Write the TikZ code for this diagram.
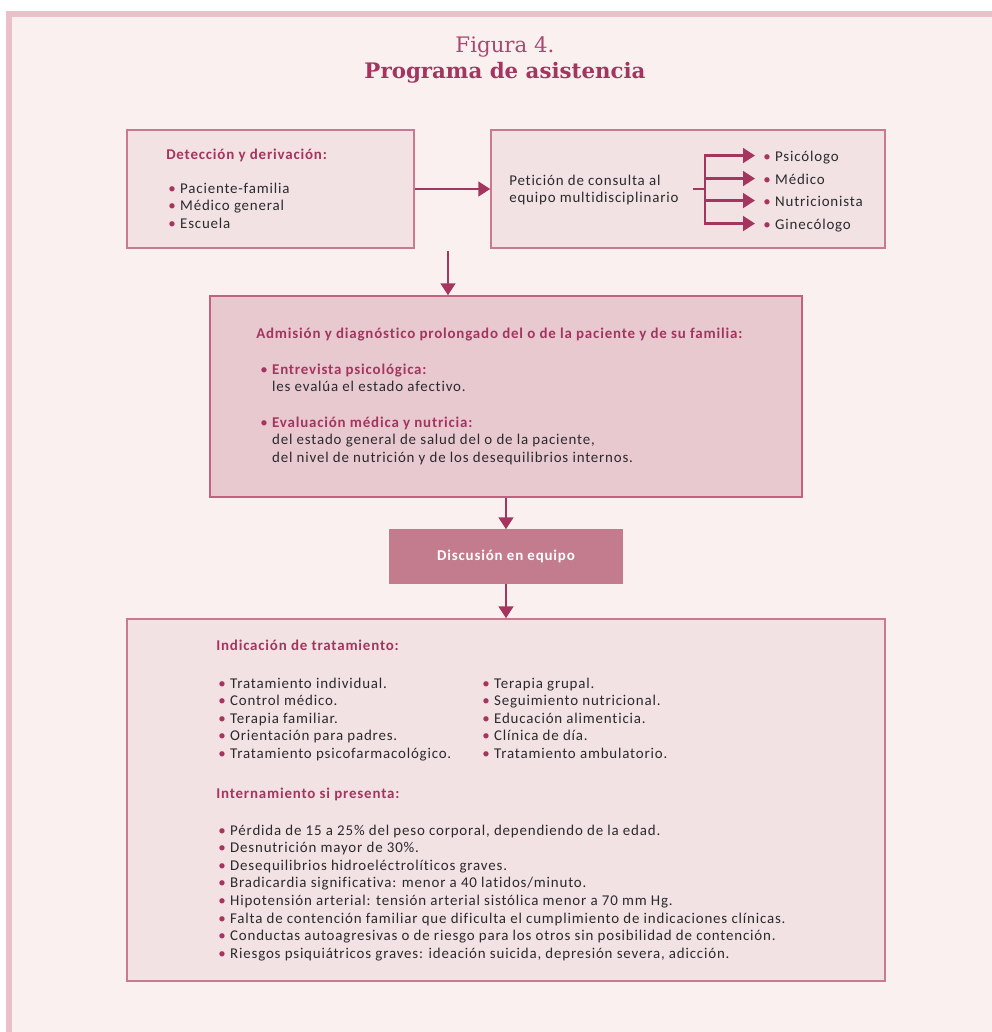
\documentclass[tikz,border=0pt]{standalone}
\usepackage{fontspec}
\setmainfont{Carlito}[LetterSpace=5.5, Ligatures=NoCommon]
\newfontfamily\titlefont{DejaVu Serif}
\usepackage{xcolor}
\usepackage{tikz}
\usetikzlibrary{arrows.meta}
\definecolor{accent}{HTML}{A3355F}
\definecolor{titlepink}{HTML}{A84971}
\definecolor{framepink}{HTML}{EBC0CA}
\definecolor{bgpink}{HTML}{FBF0F0}
\definecolor{boxlight}{HTML}{F3E2E4}
\definecolor{boxdark}{HTML}{E8C9D0}
\definecolor{boxline}{HTML}{C97A93}
\definecolor{boxlinedark}{HTML}{C4617F}
\definecolor{discfill}{HTML}{C27C8D}
\definecolor{bodytext}{HTML}{2A2A2A}
\newcommand{\bul}{{\color{accent}\textbullet}\hspace{0.3em}}
\newcommand{\hd}[1]{\textcolor{accent}{\bfseries #1}}
\newcommand{\lst}[1]{\begin{tabular}[t]{@{}l@{}}#1\end{tabular}}

\begin{document}
\begin{tikzpicture}[x=0.75pt, y=-0.75pt,
	every node/.style={font=\fontsize{11.2}{13.2}\selectfont, text=bodytext},
	box/.style={draw=boxline, line width=1.1pt, fill=boxlight, inner sep=0pt},
	txt/.style={anchor=base west, inner sep=0pt},
	arr/.style={draw=accent, line width=2pt, -{Triangle[length=9pt, width=11pt]}},
	branch/.style={arr, shorten >=6pt},
	lbl/.style={txt, text height=10pt, text depth=1.8pt}]
			\useasboundingbox (0,0) rectangle (992,1032);
			%   %   %   %   %   %   %   %   %   %   %
			%   Frame
				\fill[white] (0,0) rectangle (992,1032);
				\fill[bgpink] (8,13) rectangle (992,1032);
				\draw[framepink, line width=4.5pt] (9,1032) -- (9,14) -- (992,14);
			%   %   %   %   %   %   %   %   %   %   %
			%   Title
				\draw (505,52) node[anchor=base, text=titlepink, font=\titlefont\fontsize{16}{18}\selectfont] (fig) {Figura 4.};
				\draw (505,78) node[anchor=base, text=accent, font=\titlefont\bfseries\fontsize{16}{18}\selectfont] (title) {Programa de asistencia};
			%   %   %   %   %   %   %   %   %   %   %
			%   Detection
				\draw (270.5,189) node[box, minimum width=215.25pt, minimum height=88.5pt] (detec) {};
				\draw (166,159) node[txt] (detech) {\hd{Detección y derivación:}};
				\draw (168,193) node[txt] (detecl) {\lst{\bul Paciente-familia\\ \bul Médico general\\ \bul Escuela}};
			%   %   %   %   %   %   %   %   %   %   %
			%   Request
				\draw (688,189) node[box, minimum width=295.5pt, minimum height=88.5pt] (peticion) {};
				\draw (509,185) node[txt] (petict) {\lst{Petición de consulta al\\ equipo multidisciplinario}};
				\draw (763,161) node[lbl] (psic) {\bul Psicólogo};
				\draw (763,184) node[lbl] (medico) {\bul Médico};
				\draw (763,206) node[lbl] (nutri) {\bul Nutricionista};
				\draw (763,229) node[lbl] (gineco) {\bul Ginecólogo};
			%   %   %   %   %   %   %   %   %   %   %
			%   Detection -> Request -> team
				\draw[arr] (detec) -- (peticion);
				\coordinate (stub) at (693,189);
				\coordinate (fork) at (705,189);
				\draw[accent, line width=2pt] (stub) -- (fork);
				\draw[branch] (fork) |- (psic.west);
				\draw[branch] (fork) |- (medico.west);
				\draw[branch] (fork) |- (nutri.west);
				\draw[branch] (fork) |- (gineco.west);
			%   %   %   %   %   %   %   %   %   %   %
			%   Admission
				\draw (506,396.5) node[box, fill=boxdark, draw=boxlinedark, minimum width=444pt, minimum height=150.75pt] (admision) {};
				\draw (256,338) node[txt] (admh) {\hd{Admisión y diagnóstico prolongado del o de la paciente y de su familia:}};
				\draw (260,374) node[txt] (entrev) {\lst{\bul\hd{Entrevista psicológica:}\\ \phantom{\bul}les evalúa el estado afectivo.}};
				\draw (260,427) node[txt] (evalm) {\lst{\bul\hd{Evaluación médica y nutricia:}\\ \phantom{\bul}del estado general de salud del o de la paciente,\\ \phantom{\bul}del nivel de nutrición y de los desequilibrios internos.}};
				\coordinate (split) at (448,251);
				\draw[arr] (split) -- (split |- admision.north);
			%   %   %   %   %   %   %   %   %   %   %
			%   Discussion
				\draw (506,556.5) node[box, fill=discfill, draw=discfill, minimum width=174pt, minimum height=39.75pt, text=white, font=\bfseries\fontsize{11.2}{13.2}\selectfont] (discusion) {Discusión en equipo};
				\draw[arr] (admision) -- (discusion);
			%   %   %   %   %   %   %   %   %   %   %
			%   Treatment
				\draw (506,800) node[box, minimum width=568.5pt, minimum height=271.5pt] (indicacion) {};
				\draw[arr] (discusion) -- (indicacion);
				\draw (216,650) node[txt] (indh) {\hd{Indicación de tratamiento:}};
				\draw (218,688) node[txt] (indl) {\lst{\bul Tratamiento individual.\\ \bul Control médico.\\ \bul Terapia familiar.\\ \bul Orientación para padres.\\ \bul Tratamiento psicofarmacológico.}};
				\draw (482,688) node[txt] (indr) {\lst{\bul Terapia grupal.\\ \bul Seguimiento nutricional.\\ \bul Educación alimenticia.\\ \bul Clínica de día.\\ \bul Tratamiento ambulatorio.}};
				\draw (216,798) node[txt] (inth) {\hd{Internamiento si presenta:}};
				\draw (218,835) node[txt] (intl) {\lst{\bul Pérdida de 15 a 25\% del peso corporal, dependiendo de la edad.\\ \bul Desnutrición mayor de 30\%.\\ \bul Desequilibrios hidroeléctrolíticos graves.\\ \bul Bradicardia significativa: menor a 40 latidos/minuto.\\ \bul Hipotensión arterial: tensión arterial sistólica menor a 70 mm Hg.\\ \bul Falta de contención familiar que dificulta el cumplimiento de indicaciones clínicas.\\ \bul Conductas autoagresivas o de riesgo para los otros sin posibilidad de contención.\\ \bul Riesgos psiquiátricos graves: ideación suicida, depresión severa, adicción.}};
		\end{tikzpicture}
\end{document}
